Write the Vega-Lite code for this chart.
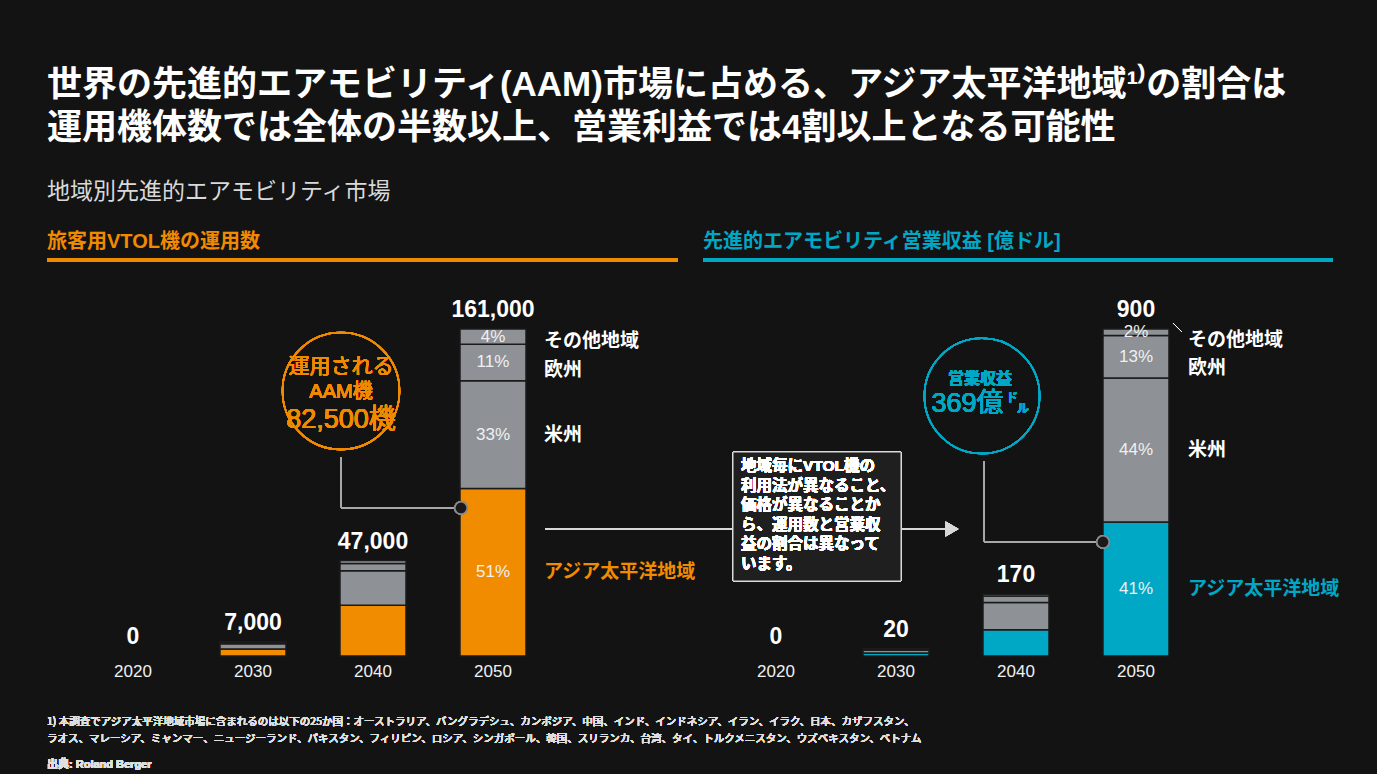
{
  "$schema": "https://vega.github.io/schema/vega-lite/v6.json",
  "background": "#131314",
  "padding": {"left": 45, "top": 67, "right": 44, "bottom": 0},
  "title": {
    "text": ["世界の先進的エアモビリティ(AAM)市場に占める、アジア太平洋地域¹⁾の割合は", "運用機体数では全体の半数以上、営業利益では4割以上となる可能性"],
    "subtitle": "地域別先進的エアモビリティ市場",
    "anchor": "start",
    "frame": "group",
    "font": "Liberation Sans, Noto Sans CJK JP",
    "fontSize": 35,
    "fontWeight": "bold",
    "color": "#ffffff",
    "lineHeight": 43,
    "subtitleFont": "Noto Sans CJK JP",
    "subtitleFontSize": 23,
    "subtitleColor": "#d9d9d9",
    "subtitlePadding": 35,
    "offset": 28
  },
  "bounds": "flush",
  "spacing": 25,
  "resolve": {"scale": {"x": "independent", "y": "independent", "color": "independent"}},
  "hconcat": [
    {
      "width": 631,
      "height": 515,
      "title": {"text": "旅客用VTOL機の運用数", "anchor": "start", "frame": "group", "color": "#F08A00", "fontSize": 20, "fontWeight": "bold", "font": "Liberation Sans, Noto Sans CJK JP", "offset": 7},
      "data": {"values": [
        {"year": 2020, "region": "アジア太平洋地域", "seg": 1, "value": 0, "pct": ""},
        {"year": 2030, "region": "アジア太平洋地域", "seg": 1, "value": 3500, "pct": ""},
        {"year": 2030, "region": "米州", "seg": 2, "value": 2500, "pct": ""},
        {"year": 2030, "region": "欧州", "seg": 3, "value": 700, "pct": ""},
        {"year": 2030, "region": "その他地域", "seg": 4, "value": 300, "pct": ""},
        {"year": 2040, "region": "アジア太平洋地域", "seg": 1, "value": 25000, "pct": ""},
        {"year": 2040, "region": "米州", "seg": 2, "value": 17000, "pct": ""},
        {"year": 2040, "region": "欧州", "seg": 3, "value": 3500, "pct": ""},
        {"year": 2040, "region": "その他地域", "seg": 4, "value": 1500, "pct": ""},
        {"year": 2050, "region": "アジア太平洋地域", "seg": 1, "value": 82500, "pct": "51%"},
        {"year": 2050, "region": "米州", "seg": 2, "value": 53000, "pct": "33%"},
        {"year": 2050, "region": "欧州", "seg": 3, "value": 18000, "pct": "11%"},
        {"year": 2050, "region": "その他地域", "seg": 4, "value": 7500, "pct": "4%"}
      ]},
      "layer": [
        {
          "mark": {"type": "rule", "color": "#F08A00", "strokeWidth": 3},
          "encoding": {
            "x": {"datum": 2012.833, "type": "quantitative", "scale": {"domain": [2012.833, 2065.417]}, "axis": null},
            "x2": {"datum": 2065.417},
            "y": {"datum": 194950, "type": "quantitative", "scale": {"domain": [-58585, 194950]}, "axis": null}
          }
        },
        {
          "transform": [
            {"filter": "datum.value > 0"},
            {"stack": "value", "groupby": ["year"], "sort": [{"field": "seg"}], "as": ["v0", "v1"]}
          ],
          "mark": {"type": "bar", "width": 66, "stroke": "#1b1b1b", "strokeWidth": 1.5},
          "encoding": {
            "x": {"field": "year", "type": "quantitative", "scale": {"domain": [2012.833, 2065.417]}, "axis": null},
            "y": {"field": "v0", "type": "quantitative", "scale": {"domain": [-58585, 194950]}, "axis": null},
            "y2": {"field": "v1"},
            "color": {"field": "region", "type": "nominal", "scale": {"domain": ["アジア太平洋地域", "米州", "欧州", "その他地域"], "range": ["#F18C00", "#8E9196", "#8E9196", "#8E9196"]}, "legend": null}
          }
        },
        {
          "transform": [
            {"filter": "datum.year == 2050"},
            {"stack": "value", "groupby": ["year"], "sort": [{"field": "seg"}], "as": ["v0", "v1"]},
            {"calculate": "(datum.v0 + datum.v1) / 2", "as": "vm"}
          ],
          "mark": {"type": "text", "fontSize": 17, "color": "#f0f0f0", "font": "Liberation Sans"},
          "encoding": {
            "x": {"field": "year", "type": "quantitative", "scale": {"domain": [2012.833, 2065.417]}, "axis": null},
            "y": {"field": "vm", "type": "quantitative", "scale": {"domain": [-58585, 194950]}, "axis": null},
            "text": {"field": "pct"}
          }
        },
        {
          "transform": [
            {"filter": "datum.year == 2050"},
            {"stack": "value", "groupby": ["year"], "sort": [{"field": "seg"}], "as": ["v0", "v1"]},
            {"calculate": "(datum.v0 + datum.v1) / 2", "as": "vm"},
            {"filter": "datum.seg <= 2"}
          ],
          "mark": {"type": "text", "align": "left", "dx": 51, "fontSize": 19, "fontWeight": "bold", "font": "Noto Sans CJK JP"},
          "encoding": {
            "x": {"field": "year", "type": "quantitative", "scale": {"domain": [2012.833, 2065.417]}, "axis": null},
            "y": {"field": "vm", "type": "quantitative", "scale": {"domain": [-58585, 194950]}, "axis": null},
            "text": {"field": "region"},
            "color": {"condition": {"test": "datum.region === 'アジア太平洋地域'", "value": "#F18C00"}, "value": "#ffffff"}
          }
        },
        {
          "transform": [
            {"filter": "datum.year == 2050"},
            {"stack": "value", "groupby": ["year"], "sort": [{"field": "seg"}], "as": ["v0", "v1"]},
            {"calculate": "(datum.v0 + datum.v1) / 2", "as": "vm"},
            {"filter": "datum.seg == 3"}
          ],
          "mark": {"type": "text", "align": "left", "dx": 51, "dy": 8, "fontSize": 19, "fontWeight": "bold", "font": "Noto Sans CJK JP", "color": "#ffffff"},
          "encoding": {
            "x": {"field": "year", "type": "quantitative", "scale": {"domain": [2012.833, 2065.417]}, "axis": null},
            "y": {"field": "vm", "type": "quantitative", "scale": {"domain": [-58585, 194950]}, "axis": null},
            "text": {"field": "region"}
          }
        },
        {
          "transform": [
            {"filter": "datum.year == 2050"},
            {"stack": "value", "groupby": ["year"], "sort": [{"field": "seg"}], "as": ["v0", "v1"]},
            {"calculate": "(datum.v0 + datum.v1) / 2", "as": "vm"},
            {"filter": "datum.seg == 4"}
          ],
          "mark": {"type": "text", "align": "left", "dx": 51, "dy": 4, "fontSize": 19, "fontWeight": "bold", "font": "Noto Sans CJK JP", "color": "#ffffff"},
          "encoding": {
            "x": {"field": "year", "type": "quantitative", "scale": {"domain": [2012.833, 2065.417]}, "axis": null},
            "y": {"field": "vm", "type": "quantitative", "scale": {"domain": [-58585, 194950]}, "axis": null},
            "text": {"field": "region"}
          }
        },
        {
          "transform": [{"aggregate": [{"op": "sum", "field": "value", "as": "total"}], "groupby": ["year"]}],
          "mark": {"type": "text", "fontSize": 23, "fontWeight": "bold", "color": "#ffffff", "dy": -19, "font": "Liberation Sans"},
          "encoding": {
            "x": {"field": "year", "type": "quantitative", "scale": {"domain": [2012.833, 2065.417]}, "axis": null},
            "y": {"field": "total", "type": "quantitative", "scale": {"domain": [-58585, 194950]}, "axis": null},
            "text": {"field": "total", "type": "quantitative", "format": ","}
          }
        },
        {
          "transform": [{"aggregate": [{"op": "sum", "field": "value", "as": "total"}], "groupby": ["year"]}],
          "mark": {"type": "text", "fontSize": 17, "color": "#f0f0f0", "dy": 16, "font": "Liberation Sans"},
          "encoding": {
            "x": {"field": "year", "type": "quantitative", "scale": {"domain": [2012.833, 2065.417]}, "axis": null},
            "y": {"datum": 0, "type": "quantitative", "scale": {"domain": [-58585, 194950]}, "axis": null},
            "text": {"field": "year", "type": "quantitative", "format": "d"}
          }
        },
        {
          "mark": {"type": "point", "shape": "circle", "filled": false, "size": 13685, "color": "#F08A00", "strokeWidth": 1.5, "opacity": 1},
          "encoding": {
            "x": {"datum": 2037.333, "type": "quantitative", "scale": {"domain": [2012.833, 2065.417]}, "axis": null},
            "y": {"datum": 130460, "type": "quantitative", "scale": {"domain": [-58585, 194950]}, "axis": null}
          }
        },
        {
          "mark": {"type": "text", "fontSize": 21, "color": "#F08A00", "font": "Noto Sans CJK JP"},
          "encoding": {
            "x": {"datum": 2037.333, "type": "quantitative", "scale": {"domain": [2012.833, 2065.417]}, "axis": null},
            "y": {"datum": 142275, "type": "quantitative", "scale": {"domain": [-58585, 194950]}, "axis": null},
            "text": {"value": "運用される"}
          }
        },
        {
          "mark": {"type": "text", "fontSize": 20, "color": "#F08A00", "font": "Liberation Sans, Noto Sans CJK JP"},
          "encoding": {
            "x": {"datum": 2037.333, "type": "quantitative", "scale": {"domain": [2012.833, 2065.417]}, "axis": null},
            "y": {"datum": 129967, "type": "quantitative", "scale": {"domain": [-58585, 194950]}, "axis": null},
            "text": {"value": "AAM機"}
          }
        },
        {
          "mark": {"type": "text", "fontSize": 27, "color": "#F08A00", "font": "Liberation Sans, Noto Sans CJK JP"},
          "encoding": {
            "x": {"datum": 2037.333, "type": "quantitative", "scale": {"domain": [2012.833, 2065.417]}, "axis": null},
            "y": {"datum": 116167, "type": "quantitative", "scale": {"domain": [-58585, 194950]}, "axis": null},
            "text": {"value": "82,500機"}
          }
        },
        {
          "mark": {"type": "rule", "color": "#a8a8a8", "strokeWidth": 1},
          "encoding": {
            "x": {"datum": 2037.333, "type": "quantitative", "scale": {"domain": [2012.833, 2065.417]}, "axis": null},
            "y": {"datum": 97968, "type": "quantitative", "scale": {"domain": [-58585, 194950]}, "axis": null},
            "y2": {"datum": 72860}
          }
        },
        {
          "mark": {"type": "rule", "color": "#a8a8a8", "strokeWidth": 1},
          "encoding": {
            "x": {"datum": 2037.333, "type": "quantitative", "scale": {"domain": [2012.833, 2065.417]}, "axis": null},
            "x2": {"datum": 2047.333},
            "y": {"datum": 72860, "type": "quantitative", "scale": {"domain": [-58585, 194950]}, "axis": null}
          }
        },
        {
          "mark": {"type": "point", "shape": "circle", "filled": true, "size": 150, "fill": "#1a1a1a", "stroke": "#8a8a8a", "strokeWidth": 1.5, "opacity": 1},
          "encoding": {
            "x": {"datum": 2047.333, "type": "quantitative", "scale": {"domain": [2012.833, 2065.417]}, "axis": null},
            "y": {"datum": 72860, "type": "quantitative", "scale": {"domain": [-58585, 194950]}, "axis": null}
          }
        },
        {
          "mark": {"type": "text", "align": "left", "baseline": "middle", "fontSize": 10.5, "lineHeight": 17, "color": "#e0e0e0", "font": "Noto Sans CJK JP"},
          "encoding": {
            "x": {"datum": 2012.833, "type": "quantitative", "scale": {"domain": [2012.833, 2065.417]}, "axis": null},
            "y": {"datum": -32492, "type": "quantitative", "scale": {"domain": [-58585, 194950]}, "axis": null},
            "text": {"value": ["1) 本調査でアジア太平洋地域市場に含まれるのは以下の25か国：オーストラリア、バングラデシュ、カンボジア、中国、インド、インドネシア、イラン、イラク、日本、カザフスタン、", "ラオス、マレーシア、ミャンマー、ニュージーランド、パキスタン、フィリピン、ロシア、シンガポール、韓国、スリランカ、台湾、タイ、トルクメニスタン、ウズベキスタン、ベトナム"]}
          }
        },
        {
          "mark": {"type": "text", "align": "left", "baseline": "middle", "fontSize": 11, "fontWeight": "bold", "color": "#e0e0e0", "font": "Liberation Sans, Noto Sans CJK JP"},
          "encoding": {
            "x": {"datum": 2012.833, "type": "quantitative", "scale": {"domain": [2012.833, 2065.417]}, "axis": null},
            "y": {"datum": -53661, "type": "quantitative", "scale": {"domain": [-58585, 194950]}, "axis": null},
            "text": {"value": "出典: Roland Berger"}
          }
        }
      ]
    },
    {
      "width": 630,
      "height": 515,
      "title": {"text": "先進的エアモビリティ営業収益 [億ドル]", "anchor": "start", "frame": "group", "color": "#00A8C6", "fontSize": 20, "fontWeight": "bold", "font": "Liberation Sans, Noto Sans CJK JP", "offset": 7},
      "data": {"values": [
        {"year": 2020, "region": "アジア太平洋地域", "seg": 1, "value": 0, "pct": ""},
        {"year": 2030, "region": "アジア太平洋地域", "seg": 1, "value": 8, "pct": ""},
        {"year": 2030, "region": "米州", "seg": 2, "value": 8, "pct": ""},
        {"year": 2030, "region": "欧州", "seg": 3, "value": 3, "pct": ""},
        {"year": 2030, "region": "その他地域", "seg": 4, "value": 1, "pct": ""},
        {"year": 2040, "region": "アジア太平洋地域", "seg": 1, "value": 72, "pct": ""},
        {"year": 2040, "region": "米州", "seg": 2, "value": 75, "pct": ""},
        {"year": 2040, "region": "欧州", "seg": 3, "value": 18, "pct": ""},
        {"year": 2040, "region": "その他地域", "seg": 4, "value": 5, "pct": ""},
        {"year": 2050, "region": "アジア太平洋地域", "seg": 1, "value": 369, "pct": "41%"},
        {"year": 2050, "region": "米州", "seg": 2, "value": 396, "pct": "44%"},
        {"year": 2050, "region": "欧州", "seg": 3, "value": 117, "pct": "13%"},
        {"year": 2050, "region": "その他地域", "seg": 4, "value": 18, "pct": "2%"}
      ]},
      "layer": [
        {
          "mark": {"type": "rule", "color": "#00A8C6", "strokeWidth": 3},
          "encoding": {
            "x": {"datum": 2013.917, "type": "quantitative", "scale": {"domain": [2013.917, 2066.417]}, "axis": null},
            "x2": {"datum": 2066.417},
            "y": {"datum": 1089.9, "type": "quantitative", "scale": {"domain": [-327.5, 1089.9]}, "axis": null}
          }
        },
        {
          "mark": {"type": "rule", "color": "#d8d8d8", "strokeWidth": 1.5},
          "encoding": {
            "x": {"datum": 2000.75, "type": "quantitative", "scale": {"domain": [2013.917, 2066.417]}, "axis": null},
            "x2": {"datum": 2034.5},
            "y": {"datum": 349.5, "type": "quantitative", "scale": {"domain": [-327.5, 1089.9]}, "axis": null}
          }
        },
        {
          "mark": {"type": "point", "shape": "triangle-right", "filled": true, "size": 220, "color": "#d8d8d8", "opacity": 1},
          "encoding": {
            "x": {"datum": 2034.67, "type": "quantitative", "scale": {"domain": [2013.917, 2066.417]}, "axis": null},
            "y": {"datum": 349.5, "type": "quantitative", "scale": {"domain": [-327.5, 1089.9]}, "axis": null}
          }
        },
        {
          "mark": {"type": "rect", "fill": "#1f1f1f", "stroke": "#dcdcdc", "strokeWidth": 1},
          "encoding": {
            "x": {"datum": 2016.417, "type": "quantitative", "scale": {"domain": [2013.917, 2066.417]}, "axis": null},
            "x2": {"datum": 2030.417},
            "y": {"datum": 206.4, "type": "quantitative", "scale": {"domain": [-327.5, 1089.9]}, "axis": null},
            "y2": {"datum": 561.5}
          }
        },
        {
          "mark": {"type": "text", "align": "left", "baseline": "top", "fontSize": 15.5, "fontWeight": "bold", "lineHeight": 19.5, "color": "#ffffff", "font": "Liberation Sans, Noto Sans CJK JP"},
          "encoding": {
            "x": {"datum": 2017.083, "type": "quantitative", "scale": {"domain": [2013.917, 2066.417]}, "axis": null},
            "y": {"datum": 542.2, "type": "quantitative", "scale": {"domain": [-327.5, 1089.9]}, "axis": null},
            "text": {"value": ["地域毎にVTOL機の", "利用法が異なること、", "価格が異なることか", "ら、運用数と営業収", "益の割合は異なって", "います。"]}
          }
        },
        {
          "transform": [
            {"filter": "datum.value > 0"},
            {"stack": "value", "groupby": ["year"], "sort": [{"field": "seg"}], "as": ["v0", "v1"]}
          ],
          "mark": {"type": "bar", "width": 66, "stroke": "#1b1b1b", "strokeWidth": 1.5},
          "encoding": {
            "x": {"field": "year", "type": "quantitative", "scale": {"domain": [2013.917, 2066.417]}, "axis": null},
            "y": {"field": "v0", "type": "quantitative", "scale": {"domain": [-327.5, 1089.9]}, "axis": null},
            "y2": {"field": "v1"},
            "color": {"field": "region", "type": "nominal", "scale": {"domain": ["アジア太平洋地域", "米州", "欧州", "その他地域"], "range": ["#00A8C6", "#8E9196", "#8E9196", "#8E9196"]}, "legend": null}
          }
        },
        {
          "transform": [
            {"filter": "datum.year == 2050"},
            {"stack": "value", "groupby": ["year"], "sort": [{"field": "seg"}], "as": ["v0", "v1"]},
            {"calculate": "(datum.v0 + datum.v1) / 2", "as": "vm"}
          ],
          "mark": {"type": "text", "fontSize": 17, "color": "#f0f0f0", "font": "Liberation Sans"},
          "encoding": {
            "x": {"field": "year", "type": "quantitative", "scale": {"domain": [2013.917, 2066.417]}, "axis": null},
            "y": {"field": "vm", "type": "quantitative", "scale": {"domain": [-327.5, 1089.9]}, "axis": null},
            "text": {"field": "pct"}
          }
        },
        {
          "transform": [
            {"filter": "datum.year == 2050"},
            {"stack": "value", "groupby": ["year"], "sort": [{"field": "seg"}], "as": ["v0", "v1"]},
            {"calculate": "(datum.v0 + datum.v1) / 2", "as": "vm"},
            {"filter": "datum.seg <= 2"}
          ],
          "mark": {"type": "text", "align": "left", "dx": 52, "fontSize": 19, "fontWeight": "bold", "font": "Noto Sans CJK JP"},
          "encoding": {
            "x": {"field": "year", "type": "quantitative", "scale": {"domain": [2013.917, 2066.417]}, "axis": null},
            "y": {"field": "vm", "type": "quantitative", "scale": {"domain": [-327.5, 1089.9]}, "axis": null},
            "text": {"field": "region"},
            "color": {"condition": {"test": "datum.region === 'アジア太平洋地域'", "value": "#00A8C6"}, "value": "#ffffff"}
          }
        },
        {
          "transform": [
            {"filter": "datum.year == 2050"},
            {"stack": "value", "groupby": ["year"], "sort": [{"field": "seg"}], "as": ["v0", "v1"]},
            {"calculate": "(datum.v0 + datum.v1) / 2", "as": "vm"},
            {"filter": "datum.seg == 3"}
          ],
          "mark": {"type": "text", "align": "left", "dx": 52, "dy": 11, "fontSize": 19, "fontWeight": "bold", "font": "Noto Sans CJK JP", "color": "#ffffff"},
          "encoding": {
            "x": {"field": "year", "type": "quantitative", "scale": {"domain": [2013.917, 2066.417]}, "axis": null},
            "y": {"field": "vm", "type": "quantitative", "scale": {"domain": [-327.5, 1089.9]}, "axis": null},
            "text": {"field": "region"}
          }
        },
        {
          "transform": [
            {"filter": "datum.year == 2050"},
            {"stack": "value", "groupby": ["year"], "sort": [{"field": "seg"}], "as": ["v0", "v1"]},
            {"calculate": "(datum.v0 + datum.v1) / 2", "as": "vm"},
            {"filter": "datum.seg == 4"}
          ],
          "mark": {"type": "text", "align": "left", "dx": 52, "dy": 8, "fontSize": 19, "fontWeight": "bold", "font": "Noto Sans CJK JP", "color": "#ffffff"},
          "encoding": {
            "x": {"field": "year", "type": "quantitative", "scale": {"domain": [2013.917, 2066.417]}, "axis": null},
            "y": {"field": "vm", "type": "quantitative", "scale": {"domain": [-327.5, 1089.9]}, "axis": null},
            "text": {"field": "region"}
          }
        },
        {
          "mark": {"type": "rule", "color": "#ffffff", "strokeWidth": 1},
          "encoding": {
            "x": {"datum": 2053.083, "type": "quantitative", "scale": {"domain": [2013.917, 2066.417]}, "axis": null},
            "x2": {"datum": 2053.833},
            "y": {"datum": 916.5, "type": "quantitative", "scale": {"domain": [-327.5, 1089.9]}, "axis": null},
            "y2": {"datum": 891.7}
          }
        },
        {
          "transform": [{"aggregate": [{"op": "sum", "field": "value", "as": "total"}], "groupby": ["year"]}],
          "mark": {"type": "text", "fontSize": 23, "fontWeight": "bold", "color": "#ffffff", "dy": -19, "font": "Liberation Sans"},
          "encoding": {
            "x": {"field": "year", "type": "quantitative", "scale": {"domain": [2013.917, 2066.417]}, "axis": null},
            "y": {"field": "total", "type": "quantitative", "scale": {"domain": [-327.5, 1089.9]}, "axis": null},
            "text": {"field": "total", "type": "quantitative", "format": ","}
          }
        },
        {
          "transform": [{"aggregate": [{"op": "sum", "field": "value", "as": "total"}], "groupby": ["year"]}],
          "mark": {"type": "text", "fontSize": 17, "color": "#f0f0f0", "dy": 16, "font": "Liberation Sans"},
          "encoding": {
            "x": {"field": "year", "type": "quantitative", "scale": {"domain": [2013.917, 2066.417]}, "axis": null},
            "y": {"datum": 0, "type": "quantitative", "scale": {"domain": [-327.5, 1089.9]}, "axis": null},
            "text": {"field": "year", "type": "quantitative", "format": "d"}
          }
        },
        {
          "mark": {"type": "point", "shape": "circle", "filled": false, "size": 13273, "color": "#00A8C6", "strokeWidth": 1.5, "opacity": 1},
          "encoding": {
            "x": {"datum": 2037.167, "type": "quantitative", "scale": {"domain": [2013.917, 2066.417]}, "axis": null},
            "y": {"datum": 715.6, "type": "quantitative", "scale": {"domain": [-327.5, 1089.9]}, "axis": null}
          }
        },
        {
          "mark": {"type": "text", "fontSize": 16, "fontWeight": "bold", "color": "#00A8C6", "font": "Noto Sans CJK JP"},
          "encoding": {
            "x": {"datum": 2037.0, "type": "quantitative", "scale": {"domain": [2013.917, 2066.417]}, "axis": null},
            "y": {"datum": 762.4, "type": "quantitative", "scale": {"domain": [-327.5, 1089.9]}, "axis": null},
            "text": {"value": "営業収益"}
          }
        },
        {
          "mark": {"type": "text", "fontSize": 27, "color": "#00A8C6", "font": "Liberation Sans, Noto Sans CJK JP"},
          "encoding": {
            "x": {"datum": 2035.96, "type": "quantitative", "scale": {"domain": [2013.917, 2066.417]}, "axis": null},
            "y": {"datum": 693.6, "type": "quantitative", "scale": {"domain": [-327.5, 1089.9]}, "axis": null},
            "text": {"value": "369億"}
          }
        },
        {
          "mark": {"type": "text", "fontSize": 12, "fontWeight": "bold", "color": "#00A8C6", "font": "Noto Sans CJK JP"},
          "encoding": {
            "x": {"datum": 2039.67, "type": "quantitative", "scale": {"domain": [2013.917, 2066.417]}, "axis": null},
            "y": {"datum": 710.1, "type": "quantitative", "scale": {"domain": [-327.5, 1089.9]}, "axis": null},
            "text": {"value": "ド"}
          }
        },
        {
          "mark": {"type": "text", "fontSize": 12, "fontWeight": "bold", "color": "#00A8C6", "font": "Noto Sans CJK JP"},
          "encoding": {
            "x": {"datum": 2040.58, "type": "quantitative", "scale": {"domain": [2013.917, 2066.417]}, "axis": null},
            "y": {"datum": 679.8, "type": "quantitative", "scale": {"domain": [-327.5, 1089.9]}, "axis": null},
            "text": {"value": "ル"}
          }
        },
        {
          "mark": {"type": "rule", "color": "#a8a8a8", "strokeWidth": 1},
          "encoding": {
            "x": {"datum": 2037.333, "type": "quantitative", "scale": {"domain": [2013.917, 2066.417]}, "axis": null},
            "y": {"datum": 536.7, "type": "quantitative", "scale": {"domain": [-327.5, 1089.9]}, "axis": null},
            "y2": {"datum": 313.8}
          }
        },
        {
          "mark": {"type": "rule", "color": "#a8a8a8", "strokeWidth": 1},
          "encoding": {
            "x": {"datum": 2037.333, "type": "quantitative", "scale": {"domain": [2013.917, 2066.417]}, "axis": null},
            "x2": {"datum": 2047.25},
            "y": {"datum": 313.8, "type": "quantitative", "scale": {"domain": [-327.5, 1089.9]}, "axis": null}
          }
        },
        {
          "mark": {"type": "point", "shape": "circle", "filled": true, "size": 150, "fill": "#1a1a1a", "stroke": "#8a8a8a", "strokeWidth": 1.5, "opacity": 1},
          "encoding": {
            "x": {"datum": 2047.25, "type": "quantitative", "scale": {"domain": [2013.917, 2066.417]}, "axis": null},
            "y": {"datum": 313.8, "type": "quantitative", "scale": {"domain": [-327.5, 1089.9]}, "axis": null}
          }
        }
      ]
    }
  ],
  "config": {
    "view": {"stroke": null},
    "scale": {"continuousPadding": 0},
    "text": {"font": "Liberation Sans, Noto Sans CJK JP"}
  }
}
